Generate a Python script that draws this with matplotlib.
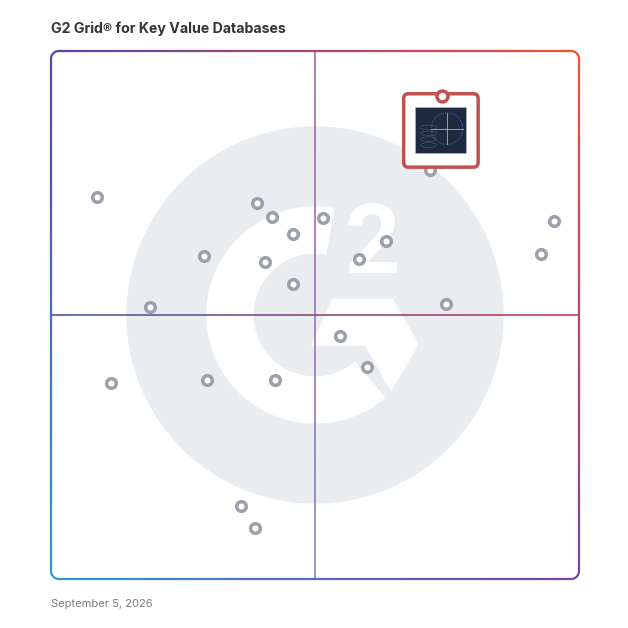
import numpy as np
import matplotlib.pyplot as plt
from matplotlib.patches import Circle, Wedge, Polygon, FancyBboxPatch, Rectangle, Ellipse, PathPatch
from matplotlib.collections import LineCollection
from matplotlib.path import Path
from matplotlib.colors import to_rgb

# products on the grid (satisfaction 0-100, market presence 0-100)
satisfaction = [8.7, 39.0, 41.8, 45.9, 51.6, 63.4, 58.4, 29.0, 40.5, 45.9, 18.8,
                74.8, 92.8, 95.3, 71.8, 54.8, 59.8, 11.4, 29.6, 42.4, 36.0, 38.6]
presence = [72.3, 71.3, 68.6, 65.3, 68.3, 64.1, 60.7, 61.2, 60.1, 55.9, 51.5,
            52.0, 61.6, 67.8, 77.5, 46.1, 40.2, 37.1, 37.7, 37.7, 13.8, 9.7]
# featured product
feat_x, feat_y = 74.1, 91.5

title = "G2 Grid\u00ae for Key Value Databases"
date_label = "September 5, 2026"

corner_tl, corner_tr = '#5a40b0', '#ff4d2e'
corner_bl, corner_br = '#2d9ad8', '#7c3fa3'


def grad(u, v):
    # bilinear blend of corner colours, u: 0 left->1 right, v: 0 bottom->1 top
    tl, tr, bl, br = [np.array(to_rgb(c)) for c in (corner_tl, corner_tr, corner_bl, corner_br)]
    u = np.asarray(u)[..., None]
    v = np.asarray(v)[..., None]
    top = tl * (1 - u) + tr * u
    bot = bl * (1 - u) + br * u
    return np.clip(bot * (1 - v) + top * v, 0, 1)


def rounded_rect(lo, hi, rad):
    verts = []
    for cx, cy, a0 in [(hi - rad, hi - rad, 0), (lo + rad, hi - rad, 90),
                       (lo + rad, lo + rad, 180), (hi - rad, lo + rad, 270)]:
        for a in np.linspace(a0, a0 + 90, 16):
            verts.append((cx + rad * np.cos(np.radians(a)), cy + rad * np.sin(np.radians(a))))
    verts.append(verts[0])
    return np.array(verts)


px = 5.28  # pixels per data unit
pad = 2
fig = plt.figure(figsize=(6.28, 6.28), dpi=100)
ax = fig.add_axes([(51 - pad * px) / 628, (49 - pad * px) / 628,
                   (100 + 2 * pad) * px / 628, (100 + 2 * pad) * px / 628])
ax.set_xlim(-pad, 100 + pad)
ax.set_ylim(-pad, 100 + pad)
ax.axis('off')

# faint G2 logo in the background
logo = '#eaedf0'
ax.add_patch(Circle((50, 50), 35.6, color=logo, zorder=0))
ax.add_patch(Wedge((50, 50), 20.45, 80, 310, width=8.7, color='white', zorder=1))
ax.add_patch(Polygon([(53.4, 53.0), (64.6, 53.0), (69.5, 44.5), (64.4, 35.8),
                      (59.5, 44.3), (49.4, 44.3)], closed=True, color='white', zorder=1))
ax.text(60.9, 62.9, '2', color='white', fontsize=70, fontweight='bold',
        family='Roboto', ha='center', va='center', zorder=1)

# rounded gradient frame: gradient image clipped to a thin rounded ring
h = 1.1 / px
r = 1.5
outer = rounded_rect(-h, 100 + h, r + h)
inner = rounded_rect(h, 100 - h, r - h)[::-1]
ring = Path(np.concatenate([outer, inner]),
            [Path.MOVETO] + [Path.LINETO] * (len(outer) - 2) + [Path.CLOSEPOLY]
            + [Path.MOVETO] + [Path.LINETO] * (len(inner) - 2) + [Path.CLOSEPOLY])
ring_patch = PathPatch(ring, facecolor='none', edgecolor='none')
ax.add_patch(ring_patch)
gu, gv = np.meshgrid(np.linspace(0, 1, 300), np.linspace(0, 1, 300))
im = ax.imshow(grad(gu, gv), extent=(-1, 101, -1, 101), origin='lower',
               interpolation='bilinear', zorder=3, aspect='auto')
im.set_clip_path(ring_patch)

# quadrant dividers
t = np.linspace(0, 100, 200)
vseg = np.stack([np.column_stack([np.full(199, 50), t[:-1]]), np.column_stack([np.full(199, 50), t[1:]])], axis=1)
vcol = [np.array(to_rgb('#8c82c4')) * (1 - v / 100) + np.array(to_rgb('#a466a6')) * v / 100 for v in t[:-1]]
ax.add_collection(LineCollection(vseg, colors=vcol, linewidths=1.2, zorder=2))
hseg = np.stack([np.column_stack([t[:-1], np.full(199, 50)]), np.column_stack([t[1:], np.full(199, 50)])], axis=1)
hcol = [np.array(to_rgb('#4a5aa8')) * (1 - u / 100) + np.array(to_rgb('#c4405c')) * u / 100 for u in t[:-1]]
ax.add_collection(LineCollection(hseg, colors=hcol, linewidths=1.2, zorder=2))

# product markers
ax.scatter(satisfaction, presence, s=48, facecolor='white', edgecolor='#9ca0ab',
           linewidths=2.5, zorder=4)

# featured product card
red = '#c1504f'
ax.add_patch(FancyBboxPatch((66.8, 78.0), 14.1, 13.9, boxstyle='round,pad=0,rounding_size=0.9',
                            facecolor='white', edgecolor=red, linewidth=2.5, zorder=5))
ax.add_patch(Rectangle((68.9, 80.7), 9.7, 8.7, facecolor='#1f2a3e', edgecolor='#b8bcc6',
                       linewidth=0.4, zorder=6))
ax.add_patch(Circle((75.0, 85.3), 3.0, fill=False, edgecolor='#5b7fd6', linewidth=0.6,
                    linestyle=':', zorder=7))
ax.plot([72.0, 78.0], [85.3, 85.3], color='#c8ccd8', linewidth=0.5, zorder=7)
ax.plot([75.0, 75.0], [82.3, 88.3], color='#c8ccd8', linewidth=0.5, zorder=7)
for k in range(4):
    ax.add_patch(Ellipse((71.5, 82.2 + k * 1.1), 3.0, 0.9, fill=False, edgecolor='#9aa3b8',
                         linewidth=0.4, linestyle=':', zorder=7))
ax.scatter([feat_x], [feat_y], s=62, facecolor='white', edgecolor=red, linewidths=2.5, zorder=8)

fig.text(51 / 628, 1 - 29 / 628, title, fontsize=10.2, fontweight='bold', family='Inter',
         color='#333333', ha='left', va='center')
fig.text(51 / 628, 1 - 604 / 628, date_label, fontsize=8, family='Inter',
         color='#7a7a7a', ha='left', va='center')

fig.savefig('out.png', dpi=100)
